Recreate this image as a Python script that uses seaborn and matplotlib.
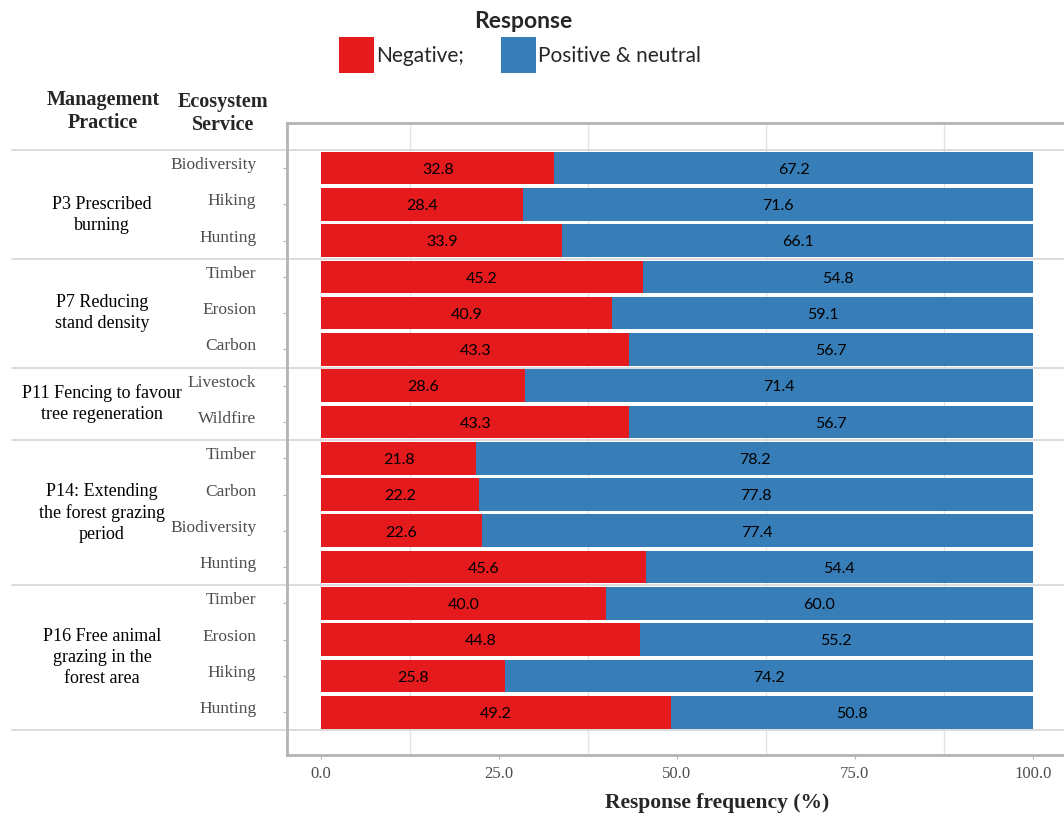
import matplotlib.pyplot as plt
import matplotlib.transforms as mtransforms
import numpy as np
import pandas as pd
import seaborn as sns

# data
practices = ["P3 Prescribed\nburning", "P7 Reducing\nstand density",
             "P11 Fencing to favour\ntree regeneration",
             "P14: Extending\nthe forest grazing\nperiod",
             "P16 Free animal\ngrazing in the\nforest area"]
practice_of_row = [0, 0, 0, 1, 1, 1, 2, 2, 3, 3, 3, 3, 4, 4, 4, 4]
services = ["Biodiversity", "Hiking", "Hunting",
            "Timber", "Erosion", "Carbon",
            "Livestock", "Wildfire",
            "Timber", "Carbon", "Biodiversity", "Hunting",
            "Timber", "Erosion", "Hiking", "Hunting"]
negative = [32.8, 28.4, 33.9, 45.2, 40.9, 43.3, 28.6, 43.3,
            21.8, 22.2, 22.6, 45.6, 40.0, 44.8, 25.8, 49.2]
positive = [67.2, 71.6, 66.1, 54.8, 59.1, 56.7, 71.4, 56.7,
            78.2, 77.8, 77.4, 54.4, 60.0, 55.2, 74.2, 50.8]

RED = '#E41A1C'
BLUE = '#377EB8'
GRAY_TXT = '#4d4d4d'

df = pd.DataFrame({
    'key': [f"{practice_of_row[i]}|{i}|{s}" for i, s in enumerate(services)],
    'service': services,
    'negative': negative,
    'positive': positive,
})
df['total'] = df['negative'] + df['positive']

sns.set_style('white')
plt.rcParams['font.family'] = ['Liberation Serif', 'DejaVu Serif']

W, H = 1064, 816
fig = plt.figure(figsize=(W / 100, H / 100), dpi=100)
ax = fig.add_axes([287 / W, 1 - 755 / H, 780 / W, 632 / H])

sns.barplot(data=df, x='total', y='key', orient='h', color=BLUE, saturation=1,
            width=0.9, ax=ax, linewidth=0, zorder=2)
sns.barplot(data=df, x='negative', y='key', orient='h', color=RED, saturation=1,
            width=0.9, ax=ax, linewidth=0, zorder=3)

for i, row in df.iterrows():
    ax.text(row.negative / 2, i + 0.05, f"{row.negative:.1f}", ha='center', va='center',
            fontsize=11.5, family='Lato', color='black', zorder=4)
    ax.text(row.negative + row.positive / 2, i + 0.05, f"{row.positive:.1f}", ha='center',
            va='center', fontsize=11.5, family='Lato', color='black', zorder=4)

ax.set_xlim(-4.78, 104.8)
ax.set_ylim(16.18, -1.24)
ax.set_xticks([0, 25, 50, 75, 100])
ax.set_xticklabels([f"{v:.1f}" for v in [0, 25, 50, 75, 100]])
ax.set_xticks([12.5, 37.5, 62.5, 87.5], minor=True)
ax.grid(False)
ax.grid(which='minor', axis='x', color='#e3e3e3', lw=1.0, zorder=0)
ax.set_yticks(range(len(services)))
ax.set_yticklabels(services)
ax.set_xlabel('')
ax.set_ylabel('')
ax.tick_params(axis='x', which='major', length=3, width=0.8, color='#b3b3b3',
               labelsize=12, labelcolor=GRAY_TXT, pad=5, bottom=True)
ax.tick_params(axis='x', which='minor', length=0)
ax.tick_params(axis='y', length=3, width=0.8, color='#b3b3b3', labelsize=12.5,
               labelcolor=GRAY_TXT, pad=19, left=True)
offset = mtransforms.ScaledTranslation(0, 5 / 100, fig.dpi_scale_trans)
for lab in ax.get_yticklabels():
    lab.set_transform(lab.get_transform() + offset)

for side in ['left', 'bottom', 'top']:
    ax.spines[side].set_color('#b3b3b3')
    ax.spines[side].set_linewidth(2)
ax.spines['right'].set_visible(False)

# group separators running across the whole figure
for yb in [-0.5, 2.5, 5.5, 7.5, 11.5, 15.5]:
    ax.axhline(yb, xmin=(12 - 287) / 780, xmax=1.0, clip_on=False,
               color='#d9d9d9', lw=1.3, zorder=1)

# management practice labels
blend = mtransforms.blended_transform_factory(fig.transFigure, ax.transData)
rows = np.array(practice_of_row)
nudge = [0.3, 0, 0, 0, 0]
for p, name in enumerate(practices):
    center = np.where(rows == p)[0].mean() + nudge[p]
    ax.text(102 / W, center, name, transform=blend, ha='center', va='center',
            fontsize=13, color='black', linespacing=1.3)

fig.text(103 / W, 1 - 112 / H, 'Management\nPractice', ha='center', va='center',
         fontsize=14.5, fontweight='bold', linespacing=1.2)
fig.text(223 / W, 1 - 114 / H, 'Ecosystem\nService', ha='center', va='center',
         fontsize=14.5, fontweight='bold', linespacing=1.2)
fig.text(717 / W, 1 - 803 / H, 'Response frequency (%)', ha='center', va='center',
         fontsize=15.5, fontweight='bold')

# legend: title as its own text so it can sit close to the keys
fig.text(523 / W, 1 - 22 / H, 'Response', ha='center', va='center',
         family='Lato', fontsize=16.5, fontweight='bold')
handles = [ax.containers[1], ax.containers[0]]
fig.legend(handles, ['Negative;', 'Positive & neutral'],
           ncol=2, loc='upper center', bbox_to_anchor=(520 / W, 1 - 26 / H),
           frameon=False, handlelength=1.7, handleheight=2.25,
           handletextpad=0.1, columnspacing=1.75, borderpad=0.05,
           prop={'family': 'Lato', 'size': 15})

fig.savefig('out.png', dpi=100)
